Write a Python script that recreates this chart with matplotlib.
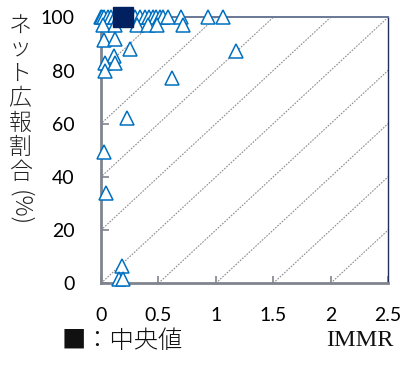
import matplotlib
matplotlib.use("Agg")
import matplotlib.pyplot as plt

# IMMR vs share of online publicity (%), one triangle per point
immr = [0.0, 0.01, 0.03, 0.06, 0.09, 0.12, 0.16, 0.22, 0.30, 0.34, 0.38,
        0.42, 0.45, 0.48, 0.51, 0.54, 0.58, 0.70, 0.935, 1.065,
        0.02, 0.12, 0.31, 0.41, 0.49, 0.71,
        0.03, 0.12, 0.25, 1.18, 0.11, 0.035, 0.12, 0.035, 0.62, 0.23,
        0.03, 0.045, 0.185, 0.16, 0.195]
net_pct = [100, 100, 100, 100, 100, 100, 100, 100, 100, 100, 100,
           100, 100, 100, 100, 100, 100, 100, 100, 100,
           97, 97, 97, 97, 97, 97,
           91.5, 92, 88, 87.5, 85.5, 83, 83, 80, 77, 62,
           49.5, 34, 6.5, 1.5, 1.5]

median_immr = 0.19
median_pct = 100

# dotted guide lines: y = 40 * (x - offset)
guide_offsets = [-2.0, -1.5, -1.0, -0.5, 0.0, 0.5, 1.0, 1.5, 2.0]
guide_slope = 40

xticks = [0, 0.5, 1, 1.5, 2, 2.5]
yticks = [0, 20, 40, 60, 80, 100]

fig = plt.figure(figsize=(4.03, 3.65), dpi=100)
ax = fig.add_axes([0.2506, 0.2238, 0.7122, 0.7288])

for c in guide_offsets:
    ax.plot([c, c + 100 / guide_slope], [0, 100], color="#8c8c8c",
            lw=0.8, ls=(0, (1.5, 1.2)), zorder=1)

ax.plot(immr, net_pct, ls="none", marker="^", ms=9.5, mfc="white",
        mec="#0070C0", mew=1.1, clip_on=False, zorder=5)
ax.plot([median_immr], [median_pct], ls="none", marker="s", ms=14.5,
        color="#002060", clip_on=False, zorder=6)

ax.set_xlim(0, 2.5)
ax.set_ylim(0, 100)
ax.set_xticks(xticks)
ax.set_yticks(yticks)
ax.set_xticklabels(["0", "0.5", "1", "1.5", "2", "2.5"])

for side in ("left", "bottom"):
    ax.spines[side].set_color("#80848e")
    ax.spines[side].set_linewidth(2.0)
ax.spines["top"].set_color("#6a7896")
ax.spines["top"].set_linewidth(1.4)
ax.spines["right"].set_color("#1f3060")
ax.spines["right"].set_linewidth(1.0)

ax.tick_params(axis="both", direction="in", color="#80848e", width=1.2,
               labelsize=14, labelfontfamily="Lato")
ax.tick_params(axis="y", length=6, pad=19)
ax.tick_params(axis="x", length=5, pad=17)

# vertical y label: upright kana/kanji, rotated "(%)"
jp = ["Noto Sans CJK JP", "DejaVu Sans"]
label_chars = "ネット広報割合"
for i, ch in enumerate(label_chars):
    fig.text(20 / 403, 1 - (25 + i * 24.5) / 365, ch, fontsize=16.5,
             family=jp, weight="light", ha="center", va="center",
             color="#222222")
fig.text(20 / 403, 1 - 208 / 365, "(%)", fontsize=17, family=jp,
         weight="light", rotation=-90, ha="center", va="center",
         color="#222222")

fig.text(62 / 403, 1 - 342 / 365, "■：中央値", fontsize=17.5, family=jp,
         weight="light", ha="left", va="center", color="#111111")
fig.text(394 / 403, 1 - 341 / 365, "IMMR", fontsize=17.5,
         family="Liberation Serif", ha="right", va="center", color="#111111")

fig.savefig("out.png", dpi=100)
